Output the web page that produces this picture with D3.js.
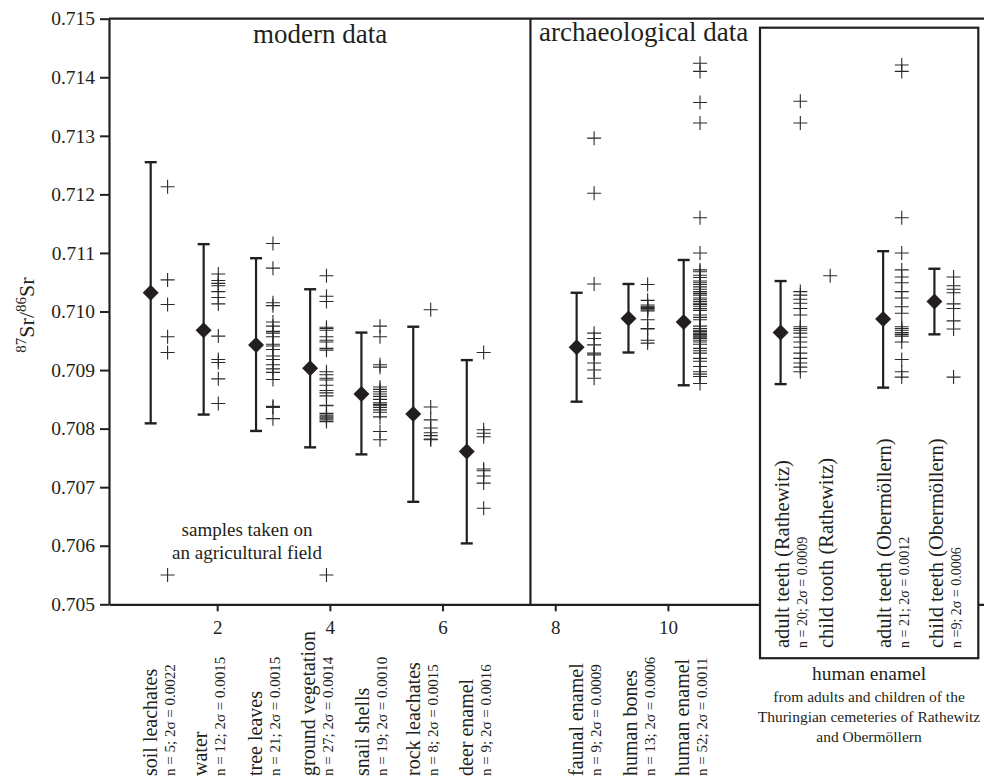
<!DOCTYPE html>
<html>
<head>
<meta charset="utf-8">
<script src="https://cdn.jsdelivr.net/npm/d3@7"></script>
<style>
  body { margin: 0; background: #fff; }
  svg { display: block; }
  text { font-family: "Liberation Serif", "Times New Roman", serif; fill: #231f20; }
</style>
</head>
<body>
<svg id="chart" width="984" height="776"></svg>
<script>
const groupNames = [
    "soil leachates", "water", "tree leaves", "ground vegetation", "snail shells",
    "rock leachates", "deer enamel", "faunal enamel", "human bones", "human enamel",
    "adult teeth (Rathewitz)", "child tooth (Rathewitz)", "adult teeth (Obermöllern)", "child teeth (Obermöllern)"
];
const groupStats = [
    "n = 5; 2σ = 0.0022", "n = 12; 2σ = 0.0015", "n = 21; 2σ = 0.0015", "n = 27; 2σ = 0.0014",
    "n = 19; 2σ = 0.0010", "n = 8; 2σ = 0.0015", "n = 9; 2σ = 0.0016", "n = 9; 2σ = 0.0009",
    "n = 13; 2σ = 0.0006", "n = 52; 2σ = 0.0011", "n = 20; 2σ = 0.0009", null,
    "n = 21; 2σ = 0.0012", "n =9; 2σ = 0.0006"
];
const boxStart = 10; // first group inside the "human enamel" box

// x positions (axis units) of the mean bar and of the sample column
const meanX = [0.82, 1.76, 2.69, 3.65, 4.56, 5.48, 6.43, 8.38, 9.30, 10.28, 12.0, null, 13.82, 14.73];
const sampleX = [1.12, 2.02, 2.99, 3.94, 4.89, 5.79, 6.73, 8.69, 9.64, 10.57, 12.35, 12.88, 14.15, 15.07];

const means = [0.71032, 0.70968, 0.70943, 0.70903, 0.70859, 0.70825, 0.70761, 0.70939, 0.70988, 0.70982, 0.70964, null, 0.70987, 0.71017];
const highs = [0.71255, 0.71115, 0.71091, 0.71038, 0.70964, 0.70974, 0.70917, 0.71032, 0.71047, 0.71088, 0.71052, null, 0.71103, 0.71073];
const lows  = [0.70809, 0.70824, 0.70796, 0.70768, 0.70756, 0.70675, 0.70604, 0.70846, 0.70930, 0.70874, 0.70876, null, 0.70870, 0.70961];

const samples = [
    [0.71213, 0.71054, 0.71012, 0.70957, 0.70930],
    [0.71064, 0.71053, 0.71044, 0.71034, 0.71024, 0.71013, 0.70958, 0.70918, 0.70913, 0.70885, 0.70843, 0.71048],
    [0.71116, 0.71074, 0.71015, 0.71010, 0.70982, 0.70975, 0.70966, 0.70963, 0.70957, 0.70944, 0.70941,
     0.70935, 0.70924, 0.70918, 0.70909, 0.70902, 0.70896, 0.70884, 0.70838, 0.70836, 0.70817],
    [0.71061, 0.71026, 0.71017, 0.70973, 0.70971, 0.70968, 0.70957, 0.70951, 0.70948, 0.70937, 0.70934,
     0.70897, 0.70892, 0.70886, 0.70883, 0.70874, 0.70865, 0.70861, 0.70856, 0.70840, 0.70839, 0.70826,
     0.70823, 0.70820, 0.70818, 0.70815, 0.70812],
    [0.70975, 0.70957, 0.70909, 0.70905, 0.70871, 0.70867, 0.70863, 0.70859, 0.70855, 0.70850, 0.70844,
     0.70841, 0.70839, 0.70836, 0.70832, 0.70828, 0.70820, 0.70795, 0.70781],
    [0.71003, 0.70837, 0.70815, 0.70801, 0.70793, 0.70788, 0.70782, 0.70781],
    [0.70930, 0.70798, 0.70792, 0.70786, 0.70731, 0.70728, 0.70719, 0.70707, 0.70664],
    [0.71296, 0.71202, 0.71047, 0.70963, 0.70954, 0.70943, 0.70929, 0.70926, 0.70912, 0.70900, 0.70886],
    [0.71046, 0.71019, 0.71011, 0.71009, 0.71007, 0.71005, 0.71003, 0.71001, 0.70986, 0.70971, 0.70970, 0.70951, 0.70946],
    [0.71424, 0.71410, 0.71357, 0.71322, 0.71160, 0.71100,
     0.71071, 0.71068, 0.71062, 0.71058, 0.71052, 0.71049, 0.71046, 0.71042, 0.71038, 0.71034, 0.71031,
     0.71028, 0.71023, 0.71020, 0.71017, 0.71014, 0.71012, 0.71009, 0.71005, 0.71002, 0.70994, 0.70990,
     0.70986, 0.70975, 0.70971, 0.70968, 0.70966, 0.70963, 0.70961, 0.70960, 0.70958, 0.70956, 0.70954,
     0.70951, 0.70948, 0.70944, 0.70937, 0.70933, 0.70929, 0.70920, 0.70915, 0.70906, 0.70897, 0.70893,
     0.70889, 0.70877],
    [0.71359, 0.71322, 0.71034, 0.71028, 0.71021, 0.71014, 0.71005, 0.70994, 0.70974, 0.70971, 0.70968,
     0.70963, 0.70956, 0.70948, 0.70939, 0.70929, 0.70920, 0.70912, 0.70905, 0.70897],
    [0.71061],
    [0.71421, 0.71410, 0.71160, 0.71100, 0.71071, 0.71059, 0.71049, 0.71034, 0.71023, 0.71008, 0.70997,
     0.70974, 0.70971, 0.70968, 0.70964, 0.70961, 0.70958, 0.70948, 0.70918, 0.70897, 0.70888],
    [0.71059, 0.71044, 0.71038, 0.71032, 0.71013, 0.71005, 0.70984, 0.70970, 0.70888]
];

// the two samples from the agricultural field
const fieldX = [1.12, 3.94];
const fieldValues = [0.7055, 0.7055];

const yTicks = [0.705, 0.706, 0.707, 0.708, 0.709, 0.710, 0.711, 0.712, 0.713, 0.714, 0.715];
const xTicks = [2, 4, 6, 8, 10, 12, 14];
const dividerX = 7.56;

const ink = "#231f20";
const serif = '"Liberation Serif", "Times New Roman", serif';

const svg = d3.select("#chart");
const x = d3.scaleLinear().domain([0.08, 15.61]).range([109, 984]);
const y = d3.scaleLinear().domain([0.705, 0.715]).range([604.3, 18.7]);

// axes
const yAxis = svg.append("g")
    .attr("transform", `translate(${x.range()[0]},0)`)
    .call(d3.axisLeft(y).tickValues(yTicks).tickFormat(d3.format(".3f"))
        .tickSize(9).tickSizeOuter(0).tickPadding(5));
yAxis.attr("font-family", serif).attr("font-size", 19.5);
yAxis.select(".domain").attr("stroke", ink).attr("stroke-width", 2.2);
yAxis.selectAll(".tick line").attr("stroke", ink).attr("stroke-width", 2);
yAxis.selectAll(".tick text").attr("fill", ink);

const xAxis = svg.append("g")
    .attr("transform", `translate(0,${y.range()[0]})`)
    .call(d3.axisBottom(x).tickValues(xTicks).tickFormat(d3.format("d"))
        .tickSize(7).tickSizeOuter(0).tickPadding(9));
xAxis.attr("font-family", serif).attr("font-size", 19);
xAxis.select(".domain").attr("stroke", ink).attr("stroke-width", 2.2);
xAxis.selectAll(".tick line").attr("stroke", ink).attr("stroke-width", 2);
xAxis.selectAll(".tick text").attr("fill", ink);

// top frame and section divider
svg.append("line")
    .attr("x1", x.range()[0]).attr("x2", x.range()[1])
    .attr("y1", y.range()[1]).attr("y2", y.range()[1])
    .attr("stroke", ink).attr("stroke-width", 2.2);

svg.append("line")
    .attr("x1", x(dividerX)).attr("x2", x(dividerX))
    .attr("y1", y.range()[1]).attr("y2", y.range()[0])
    .attr("stroke", ink).attr("stroke-width", 2.2);

// box around the human enamel groups
svg.append("rect")
    .attr("x", 760).attr("y", 27.7)
    .attr("width", 218.3).attr("height", 630.5)
    .attr("fill", "#fff")
    .attr("stroke", ink).attr("stroke-width", 2.2);

// error bars and means
const idx = d3.range(groupNames.length).filter(i => means[i] !== null);

svg.selectAll("line.err")
    .data(idx)
    .enter()
    .append("line")
    .attr("class", "err")
    .attr("x1", i => x(meanX[i])).attr("x2", i => x(meanX[i]))
    .attr("y1", i => y(highs[i])).attr("y2", i => y(lows[i]))
    .attr("stroke", ink).attr("stroke-width", 2.2);

["highs", "lows"].forEach(k => {
    const vals = k === "highs" ? highs : lows;
    svg.selectAll("line.cap-" + k)
        .data(idx)
        .enter()
        .append("line")
        .attr("class", "cap-" + k)
        .attr("x1", i => x(meanX[i]) - 6).attr("x2", i => x(meanX[i]) + 6)
        .attr("y1", i => y(vals[i])).attr("y2", i => y(vals[i]))
        .attr("stroke", ink).attr("stroke-width", 2.4);
});

svg.selectAll("path.mean")
    .data(idx)
    .enter()
    .append("path")
    .attr("class", "mean")
    .attr("transform", i => `translate(${x(meanX[i])},${y(means[i])})`)
    .attr("d", "M0,-8L8,0L0,8L-8,0Z")
    .attr("fill", ink);

// individual samples as crosses
const points = [];
samples.forEach((vals, i) => vals.forEach(v => points.push({ xv: sampleX[i], v })));
fieldX.forEach((xv, i) => points.push({ xv, v: fieldValues[i] }));

svg.selectAll("path.sample")
    .data(points)
    .enter()
    .append("path")
    .attr("class", "sample")
    .attr("transform", d => `translate(${x(d.xv)},${y(d.v)})`)
    .attr("d", "M-7,0H7M0,-7V7")
    .attr("stroke", "#2a2a2a")
    .attr("stroke-width", 1.1)
    .attr("fill", "none");

// category labels (rotated)
groupNames.forEach((name, i) => {
    const bottom = i >= boxStart ? 648 : 776;
    const cx = x(sampleX[i]);
    svg.append("text")
        .attr("transform", `translate(${groupStats[i] ? cx - 11 : cx + 3},${bottom}) rotate(-90)`)
        .style("font-size", i >= boxStart ? "20.5px" : "20px")
        .text(name);
    if (groupStats[i]) {
        svg.append("text")
            .attr("transform", `translate(${cx + 7},${bottom}) rotate(-90)`)
            .style("font-size", i >= boxStart ? "14px" : "15px")
            .text(groupStats[i]);
    }
});

// section titles and notes
svg.append("text").attr("x", 253).attr("y", 43).style("font-size", "27px").text("modern data");
svg.append("text").attr("x", 539).attr("y", 41).style("font-size", "27px").text("archaeological data");

const note = svg.append("text").attr("text-anchor", "middle").style("font-size", "19px");
note.append("tspan").attr("x", 247).attr("y", 536).text("samples taken on");
note.append("tspan").attr("x", 247).attr("y", 559).text("an agricultural field");

const caption = svg.append("text").attr("text-anchor", "middle");
caption.append("tspan").attr("x", 869).attr("y", 680).style("font-size", "19.5px").text("human enamel");
caption.append("tspan").attr("x", 869).attr("y", 702).style("font-size", "15.5px").text("from adults and children of the");
caption.append("tspan").attr("x", 869).attr("y", 722).style("font-size", "15.5px").text("Thuringian cemeteries of Rathewitz");
caption.append("tspan").attr("x", 869).attr("y", 742).style("font-size", "15.5px").text("and Obermöllern");

// y axis title
const yl = svg.append("text")
    .attr("transform", "translate(34,315) rotate(-90)")
    .attr("text-anchor", "middle")
    .style("font-size", "22px");
yl.append("tspan").attr("dy", -8).style("font-size", "15px").text("87");
yl.append("tspan").attr("dy", 8).text("Sr/");
yl.append("tspan").attr("dy", -8).style("font-size", "15px").text("86");
yl.append("tspan").attr("dy", 8).text("Sr");
</script>
</body>
</html>
